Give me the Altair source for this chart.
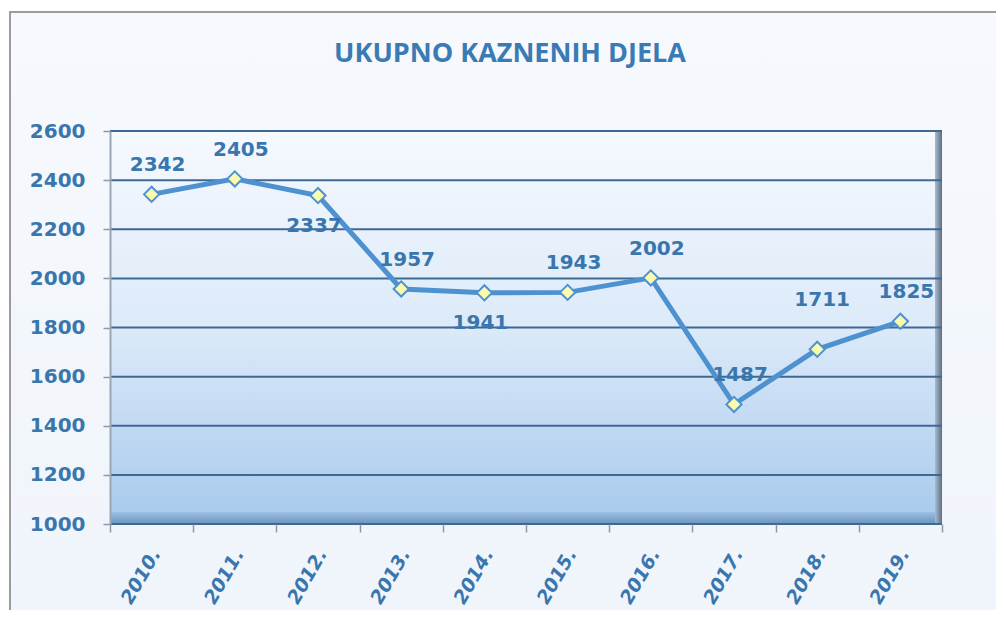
import altair as alt
import pandas as pd

years = ["2010.", "2011.", "2012.", "2013.", "2014.", "2015.", "2016.", "2017.", "2018.", "2019."]
values = [2342, 2405, 2337, 1957, 1941, 1943, 2002, 1487, 1711, 1825]
label_pos = ["above", "above", "below", "above", "below", "above", "above", "above", "high", "above"]
y_ticks = [1000, 1200, 1400, 1600, 1800, 2000, 2200, 2400, 2600]
title_text = "UKUPNO KAZNENIH DJELA"

df = pd.DataFrame({"year": years, "value": values, "pos": label_pos})
grid_df = pd.DataFrame({"tick": y_ticks})

W, H = 832, 393
TXT = "#3a76ae"
LINE = "#4d91d0"
FONT = "DejaVu Sans"

x_enc = alt.X(
    "year:N", sort=years,
    scale=alt.Scale(type="band", paddingInner=0, paddingOuter=0),
    axis=alt.Axis(title=None, labelAngle=-60, labelAlign="right", labelBaseline="middle",
                  labelFont=FONT, labelFontSize=19, labelFontWeight="bold",
                  labelFontStyle="italic", labelColor=TXT, labelPadding=18, labelOffset=4,
                  tickBand="extent", tickColor="#8d99a6", tickSize=8, tickWidth=1.5,
                  domain=False, grid=False, zindex=1),
)
y_scale = alt.Scale(domain=[1000, 2600], nice=False, zero=False)
y_enc = alt.Y(
    "value:Q", scale=y_scale,
    axis=alt.Axis(title=None, values=y_ticks, format="d", labelFont=FONT, labelFontSize=20,
                  labelFontWeight="bold", labelColor=TXT, labelPadding=18,
                  tickColor="#8d99a6", tickSize=7, tickWidth=1.5,
                  domainColor="#9aa6b4", domainWidth=2, grid=False, zindex=1),
)

base = alt.Chart(df)

frame = base.mark_rect(
    fill=alt.Gradient(gradient="linear", x1=0, x2=0, y1=0, y2=1,
                      stops=[alt.GradientStop(color="#f6f9fd", offset=0),
                             alt.GradientStop(color="#f0f5fb", offset=1)]),
    stroke="#9c9c9c", strokeWidth=2,
).encode(x=alt.value(-100), x2=alt.value(W + 70), y=alt.value(-119), y2=alt.value(H + 88))

plot_bg = base.mark_rect(
    fill=alt.Gradient(gradient="linear", x1=0, x2=0, y1=0, y2=1,
                      stops=[alt.GradientStop(color="#f6f9fe", offset=0),
                             alt.GradientStop(color="#dceaf9", offset=0.5),
                             alt.GradientStop(color="#a6c9ec", offset=1)]),
).encode(x=alt.value(0), x2=alt.value(W), y=alt.value(0), y2=alt.value(H))

floor = base.mark_rect(
    fill=alt.Gradient(gradient="linear", x1=0, x2=0, y1=0, y2=1,
                      stops=[alt.GradientStop(color="#9dbfe2", offset=0),
                             alt.GradientStop(color="#6a94bd", offset=1)]),
).encode(x=alt.value(0), x2=alt.value(W), y=alt.value(H - 12), y2=alt.value(H))

right_edge = base.mark_rect(
    fill=alt.Gradient(gradient="linear", x1=0, x2=1, y1=0, y2=0,
                      stops=[alt.GradientStop(color="#a9bccf", offset=0),
                             alt.GradientStop(color="#5d6f82", offset=1)]),
).encode(x=alt.value(W - 7), x2=alt.value(W), y=alt.value(0), y2=alt.value(H))

grid = alt.Chart(grid_df).mark_rule(color="#3e6993", strokeWidth=2).encode(
    y=alt.Y("tick:Q", scale=y_scale), x=alt.value(0), x2=alt.value(W)
)

line = base.mark_line(color=LINE, strokeWidth=5).encode(x=x_enc, y=y_enc)
points = base.mark_point(shape="diamond", filled=True, fill="#fbfbae", stroke=LINE,
                         strokeWidth=2, size=230, opacity=1).encode(x=x_enc, y=y_enc)

text_style = dict(font=FONT, fontSize=20, fontWeight="bold", color=TXT)
lab_above = base.transform_filter(alt.datum.pos == "above").mark_text(
    dy=-29, dx=6, **text_style
).encode(x=x_enc, y=y_enc, text="value:Q")
lab_high = base.transform_filter(alt.datum.pos == "high").mark_text(
    dy=-49, dx=5, **text_style
).encode(x=x_enc, y=y_enc, text="value:Q")
lab_below = base.transform_filter(alt.datum.pos == "below").mark_text(
    dy=30, dx=-4, **text_style
).encode(x=x_enc, y=y_enc, text="value:Q")

chart = alt.layer(frame, plot_bg, floor, right_edge, grid, line, points,
                  lab_above, lab_high, lab_below).properties(
    width=W, height=H,
    padding={"left": 102, "top": 123, "right": 54, "bottom": 86},
    autosize=alt.AutoSizeParams(type="none"),
    title=alt.TitleParams(title_text, font="Open Sans", fontSize=27, fontWeight="bold", color="#3a7ab5",
                          anchor="middle", offset=-57, dx=-16),
).configure_view(stroke=None).configure(background="#ffffff")

chart.save("out.html", embed_options={"renderer": "svg", "actions": False})
